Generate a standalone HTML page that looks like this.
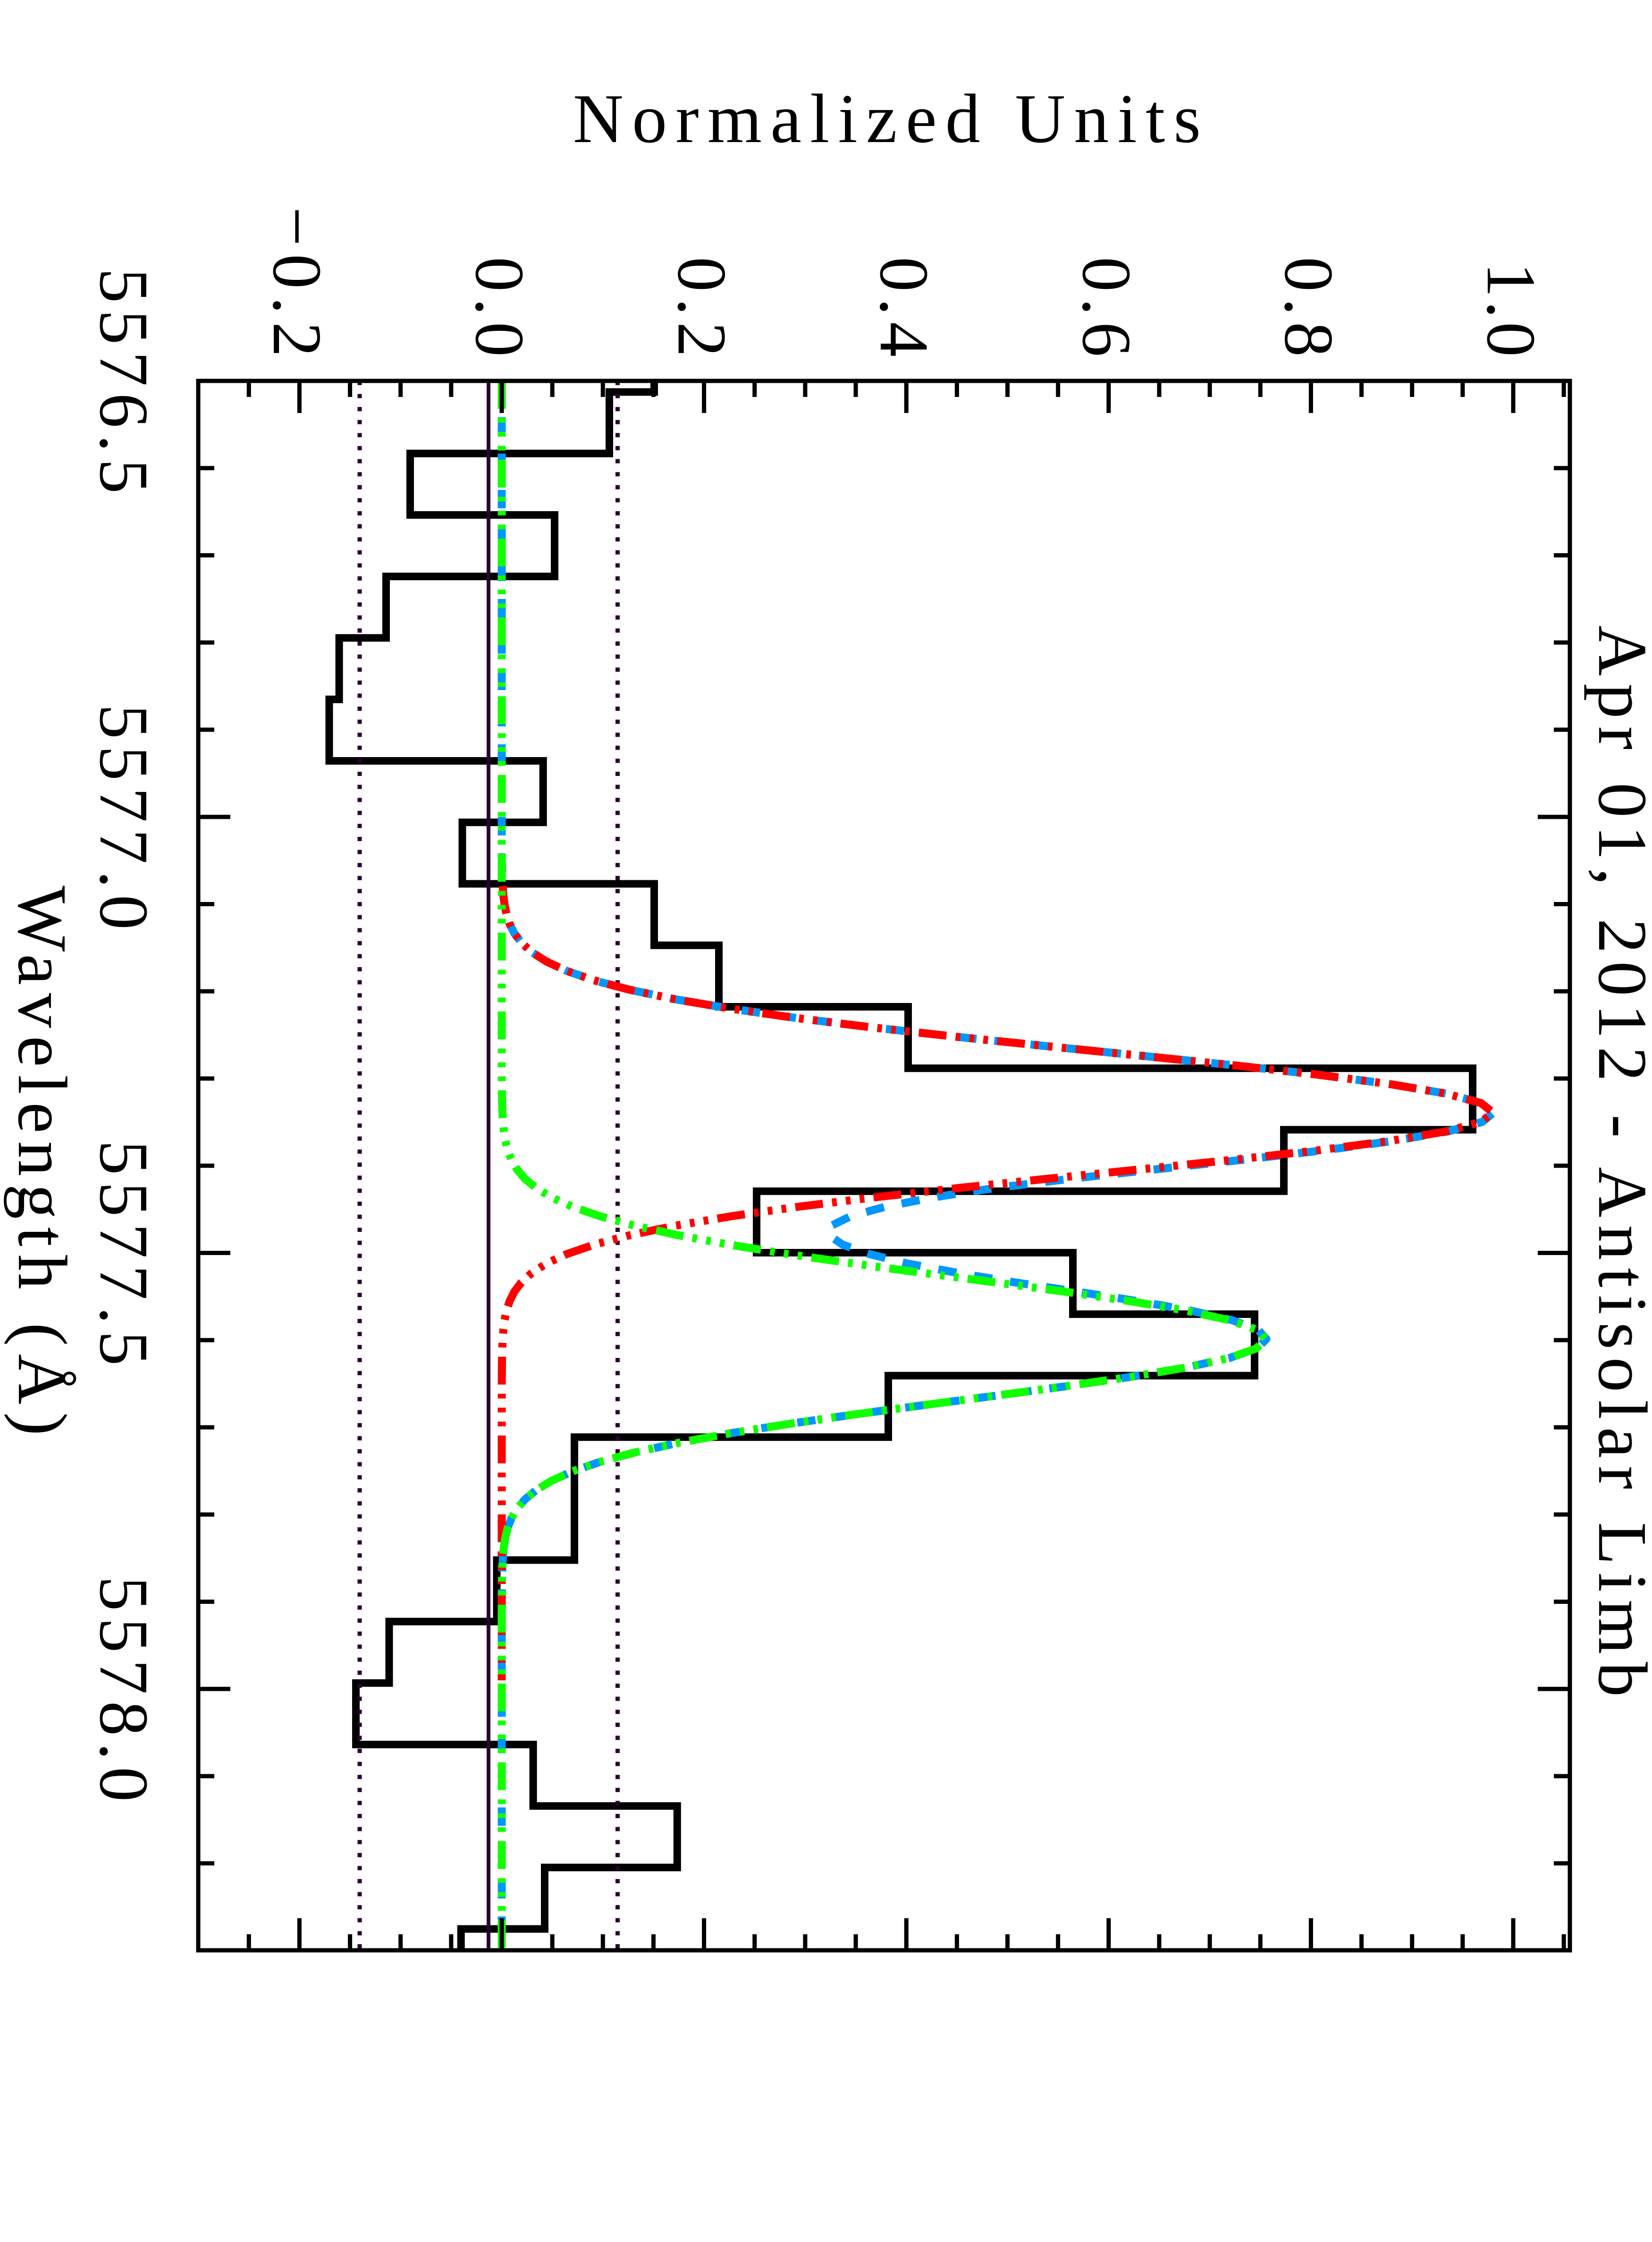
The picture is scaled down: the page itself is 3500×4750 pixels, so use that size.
<!DOCTYPE html>
<html>
<head>
<meta charset="utf-8">
<style>
html,body{margin:0;padding:0;background:#fff;}
svg{display:block;}
text{font-family:"Liberation Serif",serif;font-size:148px;fill:#000;}
</style>
</head>
<body>
<svg width="3500" height="4750" viewBox="0 0 3500 4750" xmlns="http://www.w3.org/2000/svg">
<rect x="0" y="0" width="3500" height="4750" fill="#fff"/>

<!-- histogram -->
<path d="M1386,807 V830.5 H1291 V960.75 H869 V1091 H1175 V1221.25 H818 V1351.5 H718.6 V1481.75 H697.5 V1612 H1150.7 V1742.25 H979.5 V1872.5 H1386 V2002.75 H1523 V2133 H1924 V2263.25 H3120 V2393.5 H2720 V2523.75 H1603 V2654 H2273 V2784.25 H2658 V2914.5 H1882 V3044.75 H1217 V3305.25 H1052.5 V3435.5 H824.5 V3565.75 H754 V3696 H1129.6 V3826.25 H1434.8 V3956.5 H1154 V4086.75 H976.7 V4132" fill="none" stroke="#000" stroke-width="16" stroke-linejoin="miter"/>

<!-- reference lines -->
<line x1="1035" y1="807" x2="1035" y2="4132" stroke="#2b0033" stroke-width="8"/>
<line x1="762" y1="807" x2="762" y2="4132" stroke="#2b0033" stroke-width="9" stroke-dasharray="9 18.6"/>
<line x1="1308.5" y1="807" x2="1308.5" y2="4132" stroke="#2b0033" stroke-width="9" stroke-dasharray="9 18.6"/>

<!-- blue (sum) dashed -->
<polyline fill="none" stroke="#0096ff" stroke-width="17" stroke-dasharray="39 38" stroke-linejoin="round" points="1063,807 1063,1817 1064.1,1857 1065,1877 1066.5,1897 1069,1917 1073.1,1937 1079.5,1957 1089.5,1977 1104.5,1997 1126.4,2017 1157.5,2037 1200.6,2057 1258.5,2077 1334.2,2097 1430,2117 1548,2137 1688.5,2157 1850.3,2177 2030.3,2197 2223.1,2217 2420.8,2237 2614.3,2257 2793.1,2277 2946.3,2297 3064.2,2317 3138.5,2337 3164.5,2357 3140.4,2377 3068.3,2397 2953.8,2417 2805.7,2437 2634.7,2457 2452.8,2477 2271.9,2497 2108.1,2517 1976.3,2537 1874.1,2557 1801.9,2577 1760.8,2597 1755.9,2617 1785.4,2637 1842.2,2657 1922.8,2677 2030.2,2697 2150.7,2717 2284.8,2737 2412.4,2757 2524,2777 2610.5,2797 2665,2817 2683,2837 2662.6,2857 2605.1,2877 2514.2,2897 2395.9,2917 2258.3,2937 2109.2,2957 1956.8,2977 1808.3,2997 1669.6,3017 1544.9,3037 1436.7,3057 1345.8,3077 1271.9,3097 1213.6,3117 1169,3137 1135.8,3157 1111.8,3177 1095,3197 1083.4,3217 1075.7,3237 1070.7,3257 1067.6,3277 1065.7,3297 1064.5,3317 1063.8,3337 1063.3,3377 1063,3437 1063,4132"/>

<!-- red component -->
<polyline fill="none" stroke="#ff0000" stroke-width="17" stroke-dasharray="59 19.5 10 19.5 10 19.5 10 19.5" stroke-linejoin="round" points="1065,1877 1066.5,1897 1069,1917 1073.1,1937 1079.5,1957 1089.5,1977 1104.5,1997 1126.4,2017 1157.5,2037 1200.6,2057 1258.5,2077 1334.2,2097 1430,2117 1548,2137 1688.5,2157 1850.3,2177 2030.3,2197 2223.1,2217 2420.8,2237 2614.3,2257 2793,2277 2946.1,2297 3063.7,2317 3137.7,2337 3163,2357 3137.7,2377 3063.7,2397 2946.1,2417 2793,2437 2614.3,2457 2420.8,2477 2223.1,2497 2030.3,2517 1850.3,2537 1688.5,2557 1548,2577 1430,2597 1334.2,2617 1258.5,2637 1200.6,2657 1157.5,2677 1126.4,2697 1104.5,2717 1089.5,2737 1079.5,2757 1073.1,2777 1069,2797 1066.5,2817 1065,2837 1064.1,2857 1063.6,2877 1063.2,2917 1063,2977 1063,3560"/>

<!-- green component -->
<polyline fill="none" stroke="#11ff00" stroke-width="17" stroke-dasharray="59 19.5 10 19.5 10 19.5 10 19.5" stroke-linejoin="round" points="1063,807 1063,2277 1063.5,2317 1063.8,2337 1064.5,2357 1065.7,2377 1067.6,2397 1070.7,2417 1075.7,2437 1083.4,2457 1095,2477 1111.8,2497 1135.8,2517 1169,2537 1213.6,2557 1271.9,2577 1345.8,2597 1436.7,2617 1544.9,2637 1669.6,2657 1808.3,2677 1956.8,2697 2109.2,2717 2258.3,2737 2395.9,2757 2513.9,2777 2604.5,2797 2661.5,2817 2681,2837 2661.5,2857 2604.5,2877 2513.9,2897 2395.9,2917 2258.3,2937 2109.2,2957 1956.8,2977 1808.3,2997 1669.6,3017 1544.9,3037 1436.7,3057 1345.8,3077 1271.9,3097 1213.6,3117 1169,3137 1135.8,3157 1111.8,3177 1095,3197 1083.4,3217 1075.7,3237 1070.7,3257 1067.6,3277 1065.7,3297 1064.5,3317 1063.8,3337 1063.3,3377 1063,3437 1063,4132"/>

<!-- frame -->
<rect x="420" y="807" width="2906" height="3325" fill="none" stroke="#000" stroke-width="9"/>

<!-- ticks -->
<path fill="none" stroke="#000" stroke-width="9" d="
M527.25,807v34 M741.55,807v34 M848.7,807v34 M955.85,807v34 M1170.15,807v34 M1277.3,807v34 M1384.45,807v34 M1598.75,807v34 M1705.9,807v34 M1813.05,807v34 M2027.35,807v34 M2134.5,807v34 M2241.65,807v34 M2455.95,807v34 M2563.1,807v34 M2670.25,807v34 M2884.55,807v34 M2991.7,807v34 M3098.85,807v34 M3313.15,807v34
M634.4,807v68 M1063,807v68 M1491.6,807v68 M1920.2,807v68 M2348.8,807v68 M2777.4,807v68 M3206,807v68
M527.25,4132v-34 M741.55,4132v-34 M848.7,4132v-34 M955.85,4132v-34 M1170.15,4132v-34 M1277.3,4132v-34 M1384.45,4132v-34 M1598.75,4132v-34 M1705.9,4132v-34 M1813.05,4132v-34 M2027.35,4132v-34 M2134.5,4132v-34 M2241.65,4132v-34 M2455.95,4132v-34 M2563.1,4132v-34 M2670.25,4132v-34 M2884.55,4132v-34 M2991.7,4132v-34 M3098.85,4132v-34 M3313.15,4132v-34
M634.4,4132v-68 M1063,4132v-68 M1491.6,4132v-68 M1920.2,4132v-68 M2348.8,4132v-68 M2777.4,4132v-68 M3206,4132v-68
M420,991.75h34 M420,1176.5h34 M420,1361.25h34 M420,1546h34 M420,1915.5h34 M420,2100.25h34 M420,2285h34 M420,2469.75h34 M420,2839.25h34 M420,3024h34 M420,3208.75h34 M420,3393.5h34 M420,3763h34 M420,3947.75h34
M420,1730.75h68 M420,2654.5h68 M420,3578.25h68
M3326,991.75h-34 M3326,1176.5h-34 M3326,1361.25h-34 M3326,1546h-34 M3326,1915.5h-34 M3326,2100.25h-34 M3326,2285h-34 M3326,2469.75h-34 M3326,2839.25h-34 M3326,3024h-34 M3326,3208.75h-34 M3326,3393.5h-34 M3326,3763h-34 M3326,3947.75h-34
M3326,1730.75h-68 M3326,2654.5h-68 M3326,3578.25h-68"/>

<!-- y (normalized) tick labels, rotated -->
<text transform="translate(580,756) rotate(90)" text-anchor="end" textLength="318" lengthAdjust="spacing">−0.2</text>
<text transform="translate(1009,756) rotate(90)" text-anchor="end" textLength="212" lengthAdjust="spacing">0.0</text>
<text transform="translate(1437.6,756) rotate(90)" text-anchor="end" textLength="212" lengthAdjust="spacing">0.2</text>
<text transform="translate(1866,756) rotate(90)" text-anchor="end" textLength="212" lengthAdjust="spacing">0.4</text>
<text transform="translate(2295,756) rotate(90)" text-anchor="end" textLength="212" lengthAdjust="spacing">0.6</text>
<text transform="translate(2723.4,756) rotate(90)" text-anchor="end" textLength="212" lengthAdjust="spacing">0.8</text>
<text transform="translate(3152,756) rotate(90)" text-anchor="end" textLength="200" lengthAdjust="spacing">1.0</text>

<!-- wavelength tick labels, rotated -->
<text transform="translate(213,807) rotate(90)" text-anchor="middle" textLength="478" lengthAdjust="spacing">5576.5</text>
<text transform="translate(213,1730.75) rotate(90)" text-anchor="middle" textLength="478" lengthAdjust="spacing">5577.0</text>
<text transform="translate(213,2654.5) rotate(90)" text-anchor="middle" textLength="478" lengthAdjust="spacing">5577.5</text>
<text transform="translate(213,3578.25) rotate(90)" text-anchor="middle" textLength="478" lengthAdjust="spacing">5578.0</text>

<!-- axis titles -->
<text x="1879" y="301" text-anchor="middle" textLength="1330" lengthAdjust="spacing">Normalized Units</text>
<text transform="translate(40,2459) rotate(90)" text-anchor="middle" textLength="1165" lengthAdjust="spacing">Wavelength (Å)</text>
<text transform="translate(3388,2460) rotate(90)" text-anchor="middle" textLength="2270" lengthAdjust="spacing">Apr 01, 2012 - Antisolar Limb</text>
</svg>
</body>
</html>
